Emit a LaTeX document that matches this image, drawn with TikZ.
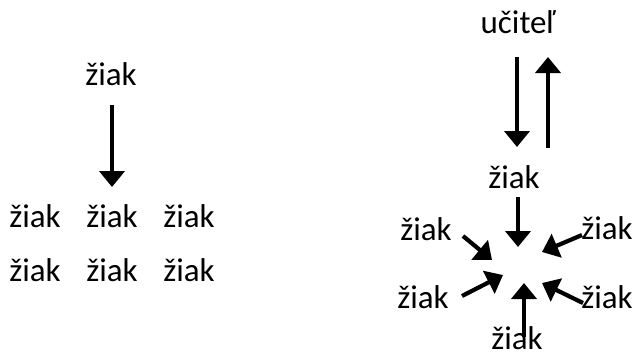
\documentclass[tikz,border=0pt]{standalone}
\usepackage{fontspec}
\setmainfont{Carlito}
\usetikzlibrary{arrows.meta}
\tikzset{
  word/.style={inner sep=0pt, anchor=base, font=\fontsize{33}{38}\selectfont},
  flow/.style={line width=4.2pt, -{Triangle[width=25pt,length=16pt]}}
}
\begin{document}
\begin{tikzpicture}[x=1pt,y=-1pt]
\useasboundingbox (0,0) rectangle (637,354);
% left: one pupil addressing the class
\node[word] (t)   at (111,85)  {žiak};
\node[word] (r11) at (35,227)  {žiak};
\node[word] (r12) at (112,227) {žiak};
\node[word] (r13) at (189,227) {žiak};
\node[word] (r21) at (35,281)  {žiak};
\node[word] (r22) at (112,281) {žiak};
\node[word] (r23) at (189,281) {žiak};
\coordinate (la) at (112,105);
\coordinate (lb) at (112,187);
\draw[flow] (la) -- (lb);
% right: teacher and pupils exchanging
\node[word] (uc) at (518,33)  {učiteľ};
\node[word] (zc) at (514,188) {žiak};
\node[word] (zl1) at (426,240) {žiak};
\node[word] (zr1) at (607,239) {žiak};
\node[word] (zl2) at (423,308) {žiak};
\node[word] (zr2) at (607,308) {žiak};
\node[word] (zb)  at (517,349) {žiak};
\coordinate (d1) at (517,57);  \coordinate (d2) at (517,147);
\coordinate (u1) at (548,148); \coordinate (u2) at (548,57);
\draw[flow] (d1) -- (d2);
\draw[flow] (u1) -- (u2);
\coordinate (c1) at (518,197); \coordinate (c2) at (518,247);
\coordinate (a1) at (463,236); \coordinate (a2) at (492,260);
\coordinate (b1) at (582,235); \coordinate (b2) at (542,252);
\coordinate (e1) at (462,296); \coordinate (e2) at (503,275);
\coordinate (f1) at (583,303); \coordinate (f2) at (542,283);
\coordinate (g1) at (524,337); \coordinate (g2) at (524,283);
\draw[flow] (c1) -- (c2);
\draw[flow] (a1) -- (a2);
\draw[flow] (b1) -- (b2);
\draw[flow] (e1) -- (e2);
\draw[flow] (f1) -- (f2);
\draw[flow] (g1) -- (g2);
\end{tikzpicture}
\end{document}
